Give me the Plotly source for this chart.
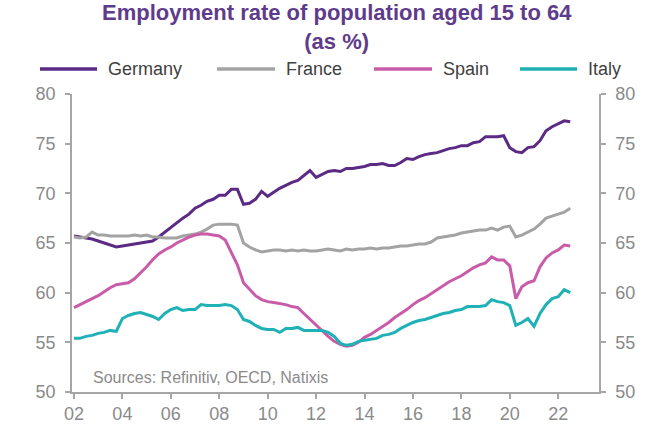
import pandas as pd
import plotly.graph_objects as go

# Quarterly observations, 2002Q1 .. 2022Q3
quarters = pd.date_range("2002-01-01", periods=83, freq="QS")

germany = [
    65.7, 65.6, 65.5, 65.4, 65.2, 65.0, 64.8, 64.6, 64.7, 64.8, 64.9, 65.0,
    65.1, 65.2, 65.6, 66.1, 66.6, 67.1, 67.5, 67.9, 68.5, 68.8, 69.2, 69.4,
    69.8, 69.8, 70.4, 70.4, 68.9, 69.0, 69.4, 70.2, 69.7, 70.1, 70.5, 70.8,
    71.1, 71.3, 71.8, 72.3, 71.6, 71.9, 72.2, 72.3, 72.2, 72.5, 72.5, 72.6,
    72.7, 72.9, 72.9, 73.0, 72.8, 72.8, 73.1, 73.5, 73.4, 73.7, 73.9, 74.0,
    74.1, 74.3, 74.5, 74.6, 74.8, 74.8, 75.1, 75.2, 75.7, 75.7, 75.7, 75.8,
    74.6, 74.2, 74.1, 74.6, 74.7, 75.3, 76.3, 76.7, 77.0, 77.3, 77.2,
]
france = [
    65.6, 65.5, 65.6, 66.1, 65.8, 65.8, 65.7, 65.7, 65.7, 65.7, 65.8, 65.7,
    65.8, 65.6, 65.6, 65.5, 65.5, 65.5, 65.7, 65.8, 65.9, 66.1, 66.4, 66.8,
    66.9, 66.9, 66.9, 66.8, 65.0, 64.6, 64.3, 64.1, 64.2, 64.3, 64.3, 64.2,
    64.3, 64.2, 64.3, 64.2, 64.2, 64.3, 64.4, 64.3, 64.2, 64.4, 64.3, 64.4,
    64.4, 64.5, 64.4, 64.5, 64.5, 64.6, 64.7, 64.7, 64.8, 64.9, 64.9, 65.1,
    65.5, 65.6, 65.7, 65.8, 66.0, 66.1, 66.2, 66.3, 66.3, 66.5, 66.3, 66.6,
    66.7, 65.6, 65.8, 66.1, 66.4, 66.9, 67.5, 67.7, 67.9, 68.1, 68.5,
]
spain = [
    58.5, 58.8, 59.1, 59.4, 59.7, 60.1, 60.5, 60.8, 60.9, 61.0, 61.4, 62.0,
    62.6, 63.3, 63.9, 64.3, 64.6, 65.0, 65.3, 65.6, 65.8, 65.9, 65.9, 65.8,
    65.7, 65.3, 64.0, 62.8, 61.0, 60.3, 59.7, 59.3, 59.1, 59.0, 58.9, 58.8,
    58.6, 58.5, 57.9, 57.3, 56.7, 56.1, 55.6, 55.1, 54.8, 54.6, 54.7, 55.0,
    55.5, 55.8, 56.2, 56.6, 57.0, 57.5, 57.9, 58.3, 58.8, 59.2, 59.5, 59.9,
    60.3, 60.7, 61.1, 61.4, 61.7, 62.1, 62.5, 62.8, 63.0, 63.6, 63.3, 63.3,
    62.7, 59.4, 60.6, 61.0, 61.2, 62.6, 63.5, 64.0, 64.3, 64.8, 64.7,
]
italy = [
    55.4, 55.4, 55.6, 55.7, 55.9, 56.0, 56.2, 56.1, 57.4, 57.7, 57.9, 58.0,
    57.8, 57.6, 57.3, 57.9, 58.3, 58.5, 58.2, 58.3, 58.3, 58.8, 58.7, 58.7,
    58.7, 58.8, 58.7, 58.3, 57.3, 57.1, 56.7, 56.4, 56.3, 56.3, 56.0, 56.4,
    56.4, 56.5, 56.2, 56.2, 56.2, 56.2, 56.0, 55.6, 54.9, 54.7, 54.8, 55.1,
    55.2, 55.3, 55.4, 55.7, 55.8, 56.0, 56.4, 56.7, 57.0, 57.2, 57.3, 57.5,
    57.7, 57.9, 58.0, 58.2, 58.3, 58.6, 58.6, 58.6, 58.7, 59.3, 59.1, 59.0,
    58.7, 56.7, 57.0, 57.4, 56.6, 57.9, 58.8, 59.4, 59.6, 60.3, 60.0,
]

series_names = ["Germany", "France", "Spain", "Italy"]
series_values = [germany, france, spain, italy]
series_colors = ["#5b2a84", "#a3a3a3", "#c95ca9", "#1fb1b6"]

y_ticks = [50, 55, 60, 65, 70, 75, 80]
title_text = "Employment rate of population aged 15 to 64<br>(as %)"
source_text = "Sources: Refinitiv, OECD, Natixis"

FONT = "Liberation Sans, Arial, sans-serif"
AXIS_GREY = "#a6a6a6"
TICK_GREY = "#8a8a8a"

fig = go.Figure()
for name, vals, col in zip(series_names, series_values, series_colors):
    fig.add_trace(go.Scatter(
        x=quarters, y=vals, name=name, mode="lines",
        line=dict(color=col, width=3),
        yaxis="y2" if name == "Italy" else "y",
        showlegend=False,
    ))

# Custom legend (long line samples as in the reference)
L, R, T, B = 72, 599, 94, 392
W, H = R - L, B - T
leg_y = (B - 69) / H
leg_line_x = [(40, 97), (217, 275), (374, 432), (520, 577)]
shapes = []
annotations = []
for (x0, x1), name, col in zip(leg_line_x, series_names, series_colors):
    shapes.append(dict(type="line", xref="paper", yref="paper",
                       x0=(x0 - L) / W, x1=(x1 - L) / W, y0=leg_y, y1=leg_y,
                       line=dict(color=col, width=3.5)))
    annotations.append(dict(text=name, xref="paper", yref="paper",
                            x=(x1 + 9 - L) / W, y=leg_y, xanchor="left", yanchor="middle",
                            showarrow=False, font=dict(family=FONT, size=18, color="#404040")))

# Title
annotations.append(dict(text="<b>" + title_text + "</b>", xref="paper", yref="paper",
                        x=(337 - L) / W, y=(B - 27) / H, xanchor="center", yanchor="middle",
                        showarrow=False,
                        font=dict(family=FONT, size=22, color="#5f3b8b")))

annotations.append(dict(text=source_text, xref="paper", yref="paper",
                        x=(91 - L) / W, y=(B - 377) / H, xanchor="left", yanchor="middle",
                        showarrow=False, font=dict(family=FONT, size=16, color=TICK_GREY)))

yaxis_common = dict(range=[50, 80], tickvals=y_ticks, showgrid=False, zeroline=False,
                    showline=True, linecolor=AXIS_GREY, linewidth=1.5,
                    ticks="outside", ticklen=5, tickcolor=AXIS_GREY, tickwidth=1.5,
                    tickfont=dict(family=FONT, size=18, color=TICK_GREY),
                    ticklabelstandoff=6)

fig.update_layout(
    width=670, height=442,
    margin=dict(l=72, r=71, t=94, b=50),
    paper_bgcolor="white", plot_bgcolor="white",
    xaxis=dict(type="date", range=["2001-12-02", "2023-09-08"],
               tick0="2002-01-01", dtick="M24", tickformat="%y",
               showgrid=False, zeroline=False, showline=True,
               linecolor=AXIS_GREY, linewidth=1.5,
               ticks="outside", ticklen=5, tickcolor=AXIS_GREY, tickwidth=1.5,
               tickfont=dict(family=FONT, size=18, color=TICK_GREY)),
    yaxis=dict(side="left", **yaxis_common),
    yaxis2=dict(side="right", overlaying="y", **yaxis_common),
    shapes=shapes,
    annotations=annotations,
    showlegend=False,
)

fig.write_html("out.html")
